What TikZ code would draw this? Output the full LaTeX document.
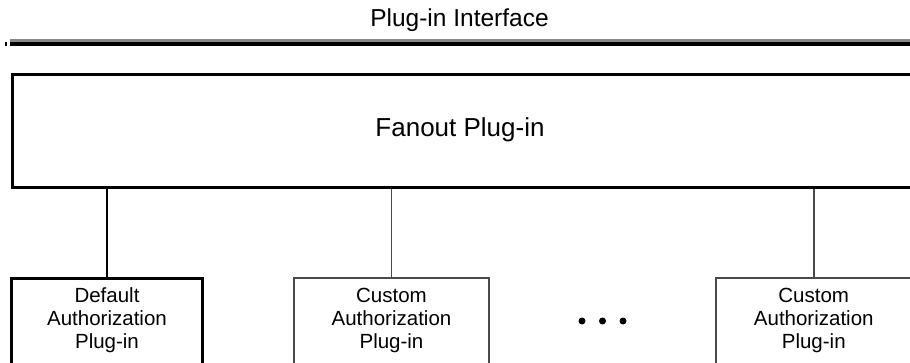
\documentclass[tikz,border=0pt]{standalone}
\usepackage{fontspec}
\setmainfont{Liberation Sans}
\definecolor{linegray}{HTML}{4A4A4A}
\definecolor{bandgray}{HTML}{888888}
\begin{document}
\begin{tikzpicture}[x=1pt,y=-1pt,
  boxthick/.style={draw=black,line width=3pt,rectangle,inner sep=0pt,anchor=north},
  boxthin/.style={draw=linegray,line width=1.7pt,rectangle,inner sep=0pt,anchor=north},
  smalltext/.style={align=center,inner sep=0pt,font=\fontsize{20.5}{23}\selectfont},
  connblack/.style={draw=black,line width=2pt},
  conngray/.style={draw=linegray,line width=1.7pt},
  dotmark/.style={circle,fill=black,inner sep=0pt,minimum size=7pt}]
\useasboundingbox (0,0) rectangle (910,363);
\clip (0,0) rectangle (910,363);
% title and interface band
\node[inner sep=0pt,font=\fontsize{24.5}{29}\selectfont] (title) at (459.5,20) {Plug-in Interface};
\coordinate (bandL) at (10,0);
\coordinate (bandR) at (910,0);
\draw[bandgray,line width=3pt] ([yshift=-40.5pt]bandL) -- ([yshift=-40.5pt]bandR);
\draw[black,line width=3.5pt] ([yshift=-44.2pt]bandL) -- ([yshift=-44.2pt]bandR);
\draw[black,line width=1.2pt] (6,42.5) -- (6,46);
% fanout box
\node[boxthick,anchor=north west,minimum width=930pt,minimum height=113pt] (fan) at (11,73.5) {};
\node[inner sep=0pt,font=\fontsize{26}{31}\selectfont] (fanlabel) at (460,130) {Fanout Plug-in};
% lower boxes
\node[boxthick,minimum width=191pt,minimum height=120pt] (def) at (107,277.5) {};
\node[smalltext] (deflabel) at (107,320) {Default\\Authorization\\Plug-in};
\node[boxthin,minimum width=195pt,minimum height=120pt] (cust1) at (391.5,277) {};
\node[smalltext] (cust1label) at (391.5,320) {Custom\\Authorization\\Plug-in};
\node[boxthin,minimum width=195pt,minimum height=120pt] (cust2) at (813.75,277) {};
\node[smalltext] (cust2label) at (813.75,320) {Custom\\Authorization\\Plug-in};
% dots
\node[dotmark] (dot1) at (582,321) {};
\node[dotmark] (dot2) at (602.5,321) {};
\node[dotmark] (dot3) at (623,321) {};
% connectors
\draw[connblack] (def.north) -- (def.north |- fan.south);
\draw[conngray] (cust1.north) -- (cust1.north |- fan.south);
\draw[conngray] (cust2.north) -- (cust2.north |- fan.south);
\end{tikzpicture}
\end{document}
